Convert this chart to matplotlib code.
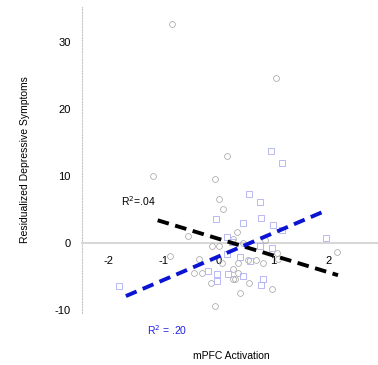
import matplotlib
matplotlib.use('Agg')
import matplotlib.pyplot as plt

plt.rcParams['font.family'] = ['Liberation Sans', 'DejaVu Sans']
plt.rcParams['axes.unicode_minus'] = False

# grey open circles
circ_x = [-0.85, 1.05, -1.2, 0.16, -0.07, 0.0, 0.09, -0.56, -0.89, -0.35, -0.44, -0.31,
          -0.13, -0.07, -0.11, 0.0, 0.33, 0.27, 0.45, 0.84, 1.07, 1.09, 2.16, 0.36,
          0.53, 0.69, 0.82, 0.27, 0.27, 0.31, 0.55, 0.40, 0.98, 0.07, 0.35]
circ_y = [32.7, 24.6, 10.0, 13.0, 9.6, 6.6, 5.1, 1.0, -2.0, -2.4, -4.5, -4.5,
          -5.9, -9.4, -0.4, -0.5, 1.6, 0.6, 0.0, 0.45, -1.5, -2.4, -1.3, -2.9,
          -2.5, -2.5, -3.0, -3.9, -5.4, -5.4, -6.0, -7.5, -6.9, -3.0, -4.5]

# blue open squares
sq_x = [0.96, 1.16, 0.56, 0.76, -0.04, 0.78, 0.44, 1.0, 1.16, 0.15, 0.24, 0.76, 0.98,
        1.96, -0.2, -0.02, -0.02, 0.18, 0.40, 0.45, 0.58, 0.82, 0.78, -1.81, 0.15]
sq_y = [13.7, 11.9, 7.3, 6.1, 3.6, 3.7, 3.0, 2.7, 1.9, 0.9, 0.1, -0.4, -0.7,
        0.8, -4.2, -4.6, -5.7, -4.6, -2.1, -4.9, -2.7, -5.4, -6.3, -6.4, -1.6]

# fitted lines (endpoints)
black_x = [-1.11, 2.18]
black_y = [3.4, -4.79]
blue_x = [-1.69, 1.89]
blue_y = [-7.9, 4.6]

xticks = [-2, -1, 0, 1, 2]
yticks = [-10, 0, 10, 20, 30]

fig = plt.figure(figsize=(3.78, 3.65), dpi=100)
ax = fig.add_axes([0.217, 0.142, 0.783, 0.839])

ax.plot(circ_x, circ_y, 'o', ms=4.2, mfc='none', mec='#a8a8a8', mew=0.55, zorder=3)
ax.plot(sq_x, sq_y, 's', ms=4.5, mfc='none', mec='#adadf2', mew=0.6, zorder=3)

ax.plot(black_x, black_y, color='black', lw=2.8, dashes=(3, 1.7), zorder=4)
ax.plot(blue_x, blue_y, color='#0a14d2', lw=2.8, dashes=(3, 1.7), zorder=4)

ax.set_xlim(-2.49, 2.91)
ax.set_ylim(-10.45, 35.2)

for s in ['top', 'right']:
    ax.spines[s].set_visible(False)
ax.spines['bottom'].set_position(('data', 0))
ax.spines['bottom'].set_color('#d0d0d0')
ax.spines['bottom'].set_linewidth(1.2)
ax.spines['left'].set_color('#c8c8c8')
ax.spines['left'].set_linestyle((0, (1, 1.5)))
ax.spines['left'].set_linewidth(0.8)

ax.set_xticks(xticks)
ax.set_yticks(yticks)
ax.tick_params(axis='x', length=0, pad=9, labelsize=8)
ax.tick_params(axis='y', length=0, pad=8, labelsize=8)

ax.set_ylabel('Residualized Depressive Symptoms', fontsize=7.5, labelpad=18)
fig.text(0.613, 1 - 356 / 365, 'mPFC Activation', fontsize=7.5, ha='center', va='center')

ax.text(-1.47, 6.3, r'R$^2$=.04', fontsize=7.5, color='black', ha='center', va='center')
ax.text(-0.93, -13.0, r'R$^2$ = .20', fontsize=7.5, color='#2020e0', ha='center', va='center',
        clip_on=False)

fig.savefig('out.png', dpi=100)
